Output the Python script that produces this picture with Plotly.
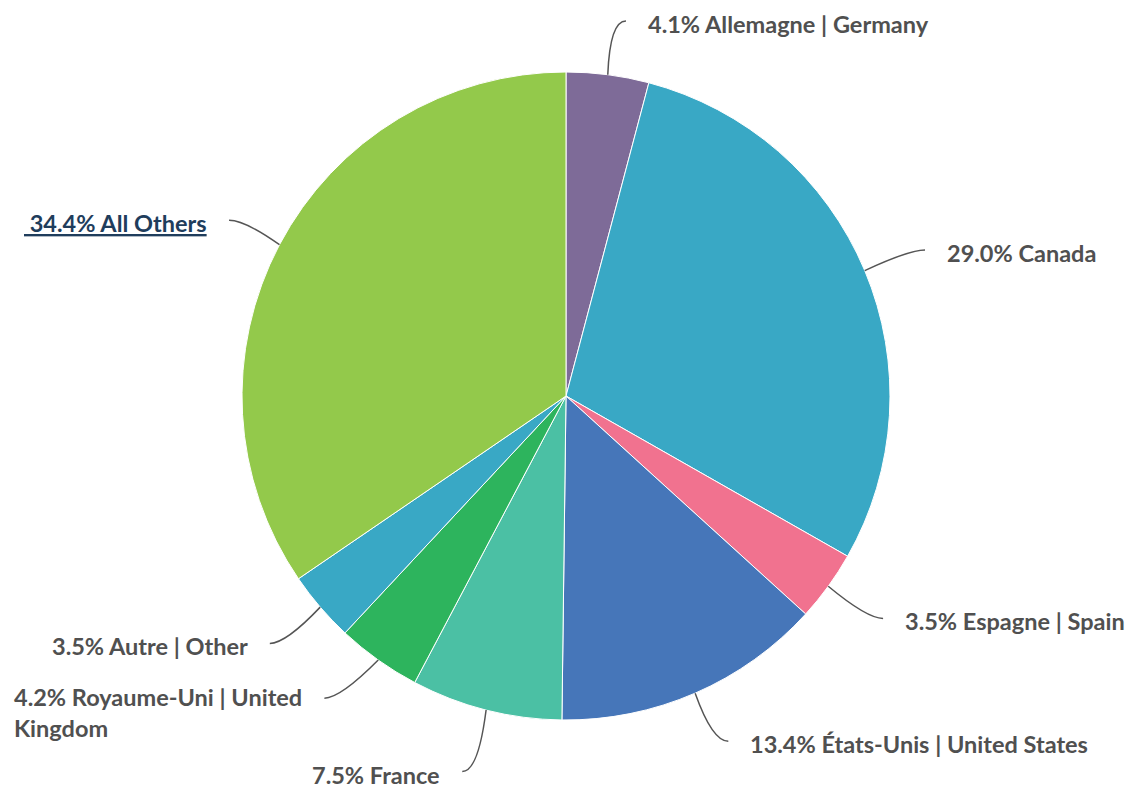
import math
import plotly.graph_objects as go

labels = ["Allemagne | Germany", "Canada", "Espagne | Spain", "États-Unis | United States",
          "France", "Royaume-Uni | United<br>Kingdom", "Autre | Other", "All Others"]
values = [4.1, 29.0, 3.5, 13.4, 7.5, 4.2, 3.5, 34.4]
colors = ["#7E6B98", "#39A8C5", "#F1728F", "#4676B9", "#4BC0A4", "#2DB45D", "#39A8C5", "#93C94B"]

W, H = 1126, 789
cx, cy, R = 566, 396, 324

fig = go.Figure(go.Pie(
    labels=labels, values=values, sort=False, direction="clockwise", rotation=0,
    marker=dict(colors=colors, line=dict(color="white", width=1)),
    textinfo="none", hoverinfo="label+percent",
    domain=dict(x=[(cx - R) / W, (cx + R) / W], y=[1 - (cy + R) / H, 1 - (cy - R) / H]),
))

def px(x, y):
    return x / W, 1 - y / H

# label placement nudges (layout only)
nudge = {0: (-4, -6), 1: (0, -2), 2: (0, 4), 3: (-2, 4), 4: (4, 15),
         5: (-10, -1), 6: (2, 5), 7: (8, -2)}

total = sum(values)
cum = 0
shapes, annotations = [], []
for i, v in enumerate(values):
    mid = (cum + v / 2) / total * 2 * math.pi
    cum += v
    s, c = math.sin(mid), math.cos(mid)
    x0, y0 = cx + R * s, cy - R * c
    ex, ey = cx + 372 * s, cy - 372 * c
    dx, dy = nudge.get(i, (0, 0))
    ex += dx
    ey += dy
    side = 1 if s >= 0 else -1
    x1, y1 = ex + 16 * side, ey
    p0, pe, p1 = px(x0, y0), px(ex, ey), px(x1, y1)
    shapes.append(dict(type="path", xref="paper", yref="paper",
                       path=f"M {p0[0]},{p0[1]} Q {pe[0]},{pe[1]} {p1[0]},{p1[1]}",
                       line=dict(color="#555555", width=1.5)))
    txt = f"{v:.1f}% {labels[i]}"
    color = "#505050"
    if labels[i] == "All Others":
        txt = f"<u> {txt}</u>"
        color = "#1F3D5C"
    tx = x1 + 20 * side
    ax, ay = px(tx, y1)
    multi = "<br>" in txt
    annotations.append(dict(
        x=ax, y=ay, xref="paper", yref="paper", showarrow=False,
        text=f"<b>{txt}</b>", align="left",
        xanchor="left" if side > 0 else "right",
        yanchor="top" if multi else "middle",
        yshift=17 if multi else -3,
        font=dict(family="Lato", size=23.5, color=color),
    ))

fig.update_layout(
    width=W, height=H, margin=dict(l=0, r=0, t=0, b=0),
    paper_bgcolor="white", plot_bgcolor="white", showlegend=False,
    shapes=shapes, annotations=annotations,
)
fig.write_html("out.html", config={"displayModeBar": False},
               post_script="document.body.style.margin='0';")
